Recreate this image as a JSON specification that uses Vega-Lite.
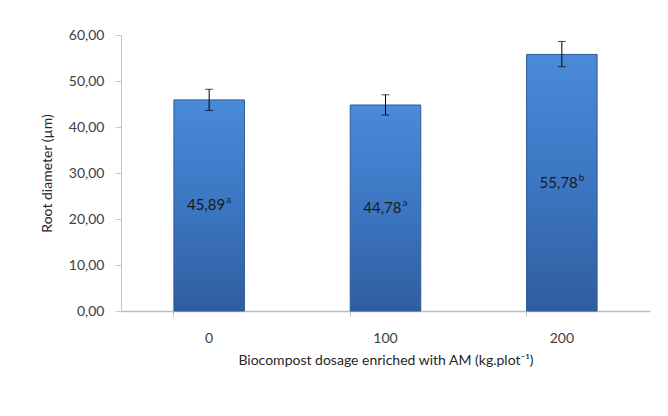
{
  "$schema": "https://vega.github.io/schema/vega-lite/v6.json",
  "autosize": "none",
  "width": 529,
  "height": 276,
  "padding": {"left": 121, "top": 35, "right": 18, "bottom": 105},
  "background": "white",
  "config": {
    "view": {"stroke": null},
    "font": "Lato",
    "axis": {"labelFont": "Lato", "titleFont": "Lato", "labelColor": "#404040", "titleColor": "#262626", "labelFontSize": 14, "titleFontSize": 14, "titleFontWeight": "normal", "grid": false}
  },
  "data": {
    "values": [
      {"dose": "0", "value": 45.89, "lo": 43.6, "hi": 48.2, "label": "45,89", "letter": "a"},
      {"dose": "100", "value": 44.78, "lo": 42.6, "hi": 47.0, "label": "44,78", "letter": "a"},
      {"dose": "200", "value": 55.78, "lo": 53.1, "hi": 58.6, "label": "55,78", "letter": "b"}
    ]
  },
  "resolve": {"axis": {"x": "independent"}},
  "layer": [
    {
      "mark": {
        "type": "bar",
        "stroke": "#2d5a93",
        "strokeWidth": 1,
        "color": {
          "gradient": "linear", "x1": 0, "y1": 0, "x2": 0, "y2": 1,
          "stops": [
            {"offset": 0, "color": "#4a8ad8"},
            {"offset": 0.5, "color": "#3c76c2"},
            {"offset": 1, "color": "#2f5e9e"}
          ]
        }
      },
      "encoding": {
        "x": {
          "field": "dose", "type": "nominal", "sort": ["0", "100", "200"],
          "scale": {"paddingInner": 0.6, "paddingOuter": 0.3},
          "axis": {
            "orient": "bottom",
            "title": "Biocompost  dosage enriched with AM (kg.plot⁻¹)",
            "labelAngle": 0, "ticks": false, "domain": false,
            "labelPadding": 20, "titlePadding": 8
          }
        },
        "y": {
          "field": "value", "type": "quantitative",
          "scale": {"domain": [0, 60]},
          "axis": {
            "title": "Root diameter (µm)",
            "values": [0, 10, 20, 30, 40, 50, 60],
            "labelExpr": "replace(format(datum.value, '.2f'), '.', ',')",
            "domainColor": "#c6c6c6", "tickColor": "#c6c6c6", "tickSize": 6,
            "labelPadding": 11, "titlePadding": 14
          }
        }
      }
    },
    {
      "mark": {"type": "rule", "opacity": 0},
      "encoding": {
        "x": {
          "field": "dose", "type": "nominal", "sort": ["0", "100", "200"],
          "axis": {
            "orient": "bottom",
            "title": null, "labels": false, "bandPosition": 0,
            "ticks": true, "tickSize": 5, "tickColor": "#bdbdbd",
            "domain": true, "domainColor": "#bdbdbd", "domainWidth": 1.5
          }
        }
      }
    },
    {
      "mark": {"type": "rule", "color": "#000000", "strokeWidth": 1},
      "encoding": {
        "x": {"field": "dose", "type": "nominal", "sort": ["0", "100", "200"], "axis": null},
        "y": {"field": "lo", "type": "quantitative"},
        "y2": {"field": "hi"}
      }
    },
    {
      "mark": {"type": "tick", "color": "#000000", "size": 8, "thickness": 1, "orient": "horizontal"},
      "encoding": {
        "x": {"field": "dose", "type": "nominal", "sort": ["0", "100", "200"], "axis": null},
        "y": {"field": "lo", "type": "quantitative"}
      }
    },
    {
      "mark": {"type": "tick", "color": "#000000", "size": 8, "thickness": 1, "orient": "horizontal"},
      "encoding": {
        "x": {"field": "dose", "type": "nominal", "sort": ["0", "100", "200"], "axis": null},
        "y": {"field": "hi", "type": "quantitative"}
      }
    },
    {
      "transform": [{"calculate": "datum.value / 2", "as": "mid"}],
      "mark": {"type": "text", "font": "Lato", "fontSize": 15, "color": "#1a1a1a", "baseline": "middle", "align": "right", "dx": 16},
      "encoding": {
        "x": {"field": "dose", "type": "nominal", "sort": ["0", "100", "200"], "axis": null},
        "y": {"field": "mid", "type": "quantitative"},
        "text": {"field": "label"}
      }
    },
    {
      "transform": [{"calculate": "datum.value / 2", "as": "mid"}],
      "mark": {"type": "text", "font": "Lato", "fontSize": 10, "color": "#1a1a1a", "baseline": "middle", "align": "left", "dx": 17, "dy": -5},
      "encoding": {
        "x": {"field": "dose", "type": "nominal", "sort": ["0", "100", "200"], "axis": null},
        "y": {"field": "mid", "type": "quantitative"},
        "text": {"field": "letter"}
      }
    }
  ]
}
